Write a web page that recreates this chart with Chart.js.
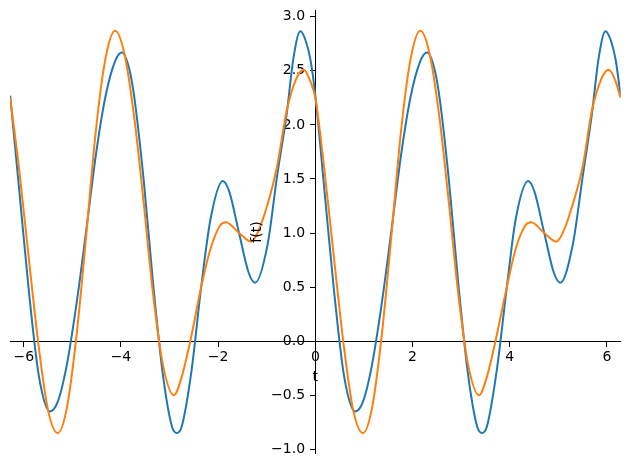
<!DOCTYPE html>
<html>
<head>
<meta charset="utf-8">
<script src="https://cdn.jsdelivr.net/npm/chart.js@4.4.1/dist/chart.umd.min.js"></script>
<style>
  html, body { margin: 0; padding: 0; background: #fff; }
</style>
</head>
<body>
<canvas id="chart" width="630" height="468"></canvas>
<script>
// values (t, f(t)); turning points included
var blueT = [-6.28, -6.09, -5.89, -5.69, -5.46, -5.30, -5.11, -4.91, -4.71, -4.52, -4.32, -4.12, -3.98, -3.83, -3.73, -3.53, -3.34, -3.14, -2.95, -2.85, -2.75, -2.55, -2.36, -2.16, -1.905, -1.77, -1.57, -1.37, -1.24, -0.98, -0.79, -0.59, -0.45, -0.31, -0.20, -0.10, 0,
             0.19, 0.39, 0.59, 0.82, 0.98, 1.17, 1.37, 1.57, 1.76, 1.96, 2.16, 2.30, 2.45, 2.55, 2.75, 2.94, 3.14, 3.33, 3.43, 3.53, 3.73, 3.93, 4.12, 4.38, 4.51, 4.71, 4.91, 5.04, 5.30, 5.50, 5.69, 5.83, 5.97, 6.08, 6.18, 6.28];
var blueF = [2.27, 1.38, 0.44, -0.32, -0.65, -0.56, -0.21, 0.36, 1.04, 1.71, 2.26, 2.59, 2.67, 2.52, 2.27, 1.48, 0.54, -0.30, -0.79, -0.85, -0.79, -0.28, 0.46, 1.12, 1.48, 1.38, 1.00, 0.63, 0.54, 0.90, 1.52, 2.10, 2.62, 2.865, 2.78, 2.60, 2.27,
             1.38, 0.44, -0.32, -0.65, -0.56, -0.21, 0.36, 1.04, 1.71, 2.26, 2.59, 2.67, 2.52, 2.27, 1.48, 0.54, -0.30, -0.79, -0.85, -0.79, -0.28, 0.46, 1.12, 1.48, 1.38, 1.00, 0.63, 0.54, 0.90, 1.52, 2.10, 2.62, 2.865, 2.78, 2.60, 2.27];

var orangeT = [-6.28, -6.09, -5.89, -5.69, -5.50, -5.30, -5.11, -4.91, -4.71, -4.52, -4.32, -4.12, -3.93, -3.73, -3.53, -3.34, -3.14, -2.91, -2.75, -2.55, -2.36, -2.16, -1.96, -1.84, -1.57, -1.32, -1.18, -0.98, -0.79, -0.59, -0.39, -0.24, -0.10, 0,
               0.19, 0.39, 0.59, 0.78, 0.98, 1.17, 1.37, 1.57, 1.76, 1.96, 2.16, 2.35, 2.55, 2.75, 2.94, 3.14, 3.37, 3.53, 3.73, 3.93, 4.12, 4.32, 4.44, 4.71, 4.96, 5.10, 5.30, 5.50, 5.69, 5.89, 6.04, 6.18, 6.28];
var orangeF = [2.25, 1.57, 0.74, -0.06, -0.64, -0.85, -0.61, 0.07, 1.00, 1.93, 2.61, 2.87, 2.66, 2.08, 1.27, 0.44, -0.21, -0.50, -0.33, 0.05, 0.48, 0.85, 1.07, 1.10, 1.00, 0.92, 1.01, 1.27, 1.61, 2.13, 2.43, 2.51, 2.40, 2.25,
               1.57, 0.74, -0.06, -0.64, -0.85, -0.61, 0.07, 1.00, 1.93, 2.61, 2.87, 2.66, 2.08, 1.27, 0.44, -0.21, -0.50, -0.33, 0.05, 0.48, 0.85, 1.07, 1.10, 1.00, 0.92, 1.01, 1.27, 1.61, 2.13, 2.43, 2.51, 2.40, 2.25];

var xTicks = [-6, -4, -2, 0, 2, 4, 6];
var yTicks = [-1.0, -0.5, 0.0, 0.5, 1.0, 1.5, 2.0, 2.5, 3.0];
var xLabel = 't';
var yLabel = 'f(t)';

function points(ts, fs) {
    return ts.map(function(t, i) { return { x: t, y: fs[i] }; });
}

function minusSign(s) {
    return s.replace('-', '\u2212');
}

var axisLabels = {
    id: 'axisLabels',
    afterDraw: function(chart) {
        var ctx = chart.ctx;
        var x0 = chart.scales.x.getPixelForValue(0);
        var y0 = chart.scales.y.getPixelForValue(0);
        var area = chart.chartArea;
        ctx.save();
        ctx.fillStyle = '#000';
        ctx.font = '14px "DejaVu Sans"';
        ctx.textAlign = 'center';
        ctx.textBaseline = 'middle';
        ctx.fillText(xLabel, x0, y0 + 36);
        ctx.translate(x0 - 58, (area.top + area.bottom) / 2);
        ctx.rotate(-Math.PI / 2);
        ctx.fillText(yLabel, 0, 0);
        ctx.restore();
    }
};

function noPadding(scale) {
    scale.paddingTop = 0;
    scale.paddingBottom = 0;
    scale.paddingLeft = 0;
    scale.paddingRight = 0;
}

var axisStyle = {
    grid: { drawOnChartArea: false, drawTicks: true, tickLength: 5, tickColor: '#000', tickWidth: 1 },
    border: { display: true, color: '#000', width: 1 }
};

new Chart(document.getElementById('chart'), {
    type: 'line',
    data: {
        datasets: [{
            data: points(blueT, blueF),
            borderColor: '#1f77b4',
            borderWidth: 2,
            pointRadius: 0,
            cubicInterpolationMode: 'monotone',
            fill: false,
            order: 1
        }, {
            data: points(orangeT, orangeF),
            borderColor: '#ff7f0e',
            borderWidth: 2,
            pointRadius: 0,
            cubicInterpolationMode: 'monotone',
            fill: false,
            order: 0
        }]
    },
    options: {
        responsive: false,
        animation: false,
        devicePixelRatio: 1,
        layout: { padding: { left: 10, right: 9.3, top: 10.7, bottom: 14.6 } },
        plugins: { legend: { display: false }, tooltip: { enabled: false } },
        scales: {
            x: {
                type: 'linear',
                position: { y: 0 },
                min: -2 * Math.PI,
                max: 2 * Math.PI,
                grid: axisStyle.grid,
                border: axisStyle.border,
                afterBuildTicks: function(scale) {
                    scale.ticks = xTicks.map(function(v) { return { value: v }; });
                },
                afterFit: noPadding,
                ticks: {
                    color: '#000',
                    padding: 3,
                    font: { family: 'DejaVu Sans', size: 14 },
                    callback: function(v) { return minusSign(String(v)); }
                }
            },
            y: {
                type: 'linear',
                position: { x: 0 },
                min: -1.038,
                max: 3.056,
                grid: axisStyle.grid,
                border: axisStyle.border,
                afterBuildTicks: function(scale) {
                    scale.ticks = yTicks.map(function(v) { return { value: v }; });
                },
                afterFit: noPadding,
                ticks: {
                    color: '#000',
                    padding: 3,
                    font: { family: 'DejaVu Sans', size: 14 },
                    // centred axis draws labels flush with the spine; trailing space keeps the gap
                    callback: function(v) { return minusSign(v.toFixed(1)) + '\u2007\u200A'; }
                }
            }
        }
    },
    plugins: [axisLabels]
});
</script>
</body>
</html>
